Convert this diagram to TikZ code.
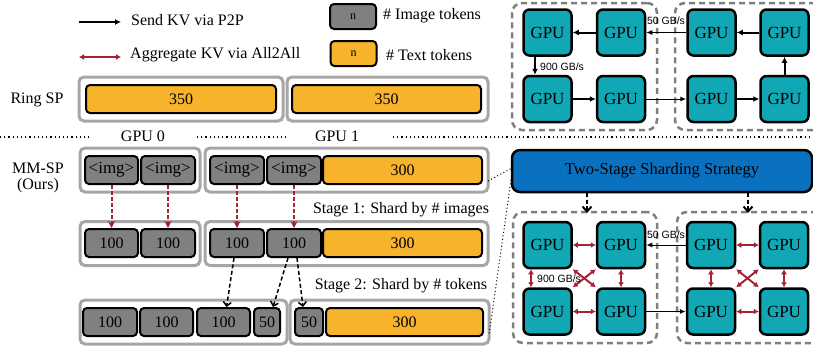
\documentclass[tikz,border=0pt]{standalone}
\usepackage{fontspec}
\setmainfont{Liberation Serif}
\newfontfamily\arialf{Liberation Sans}
\usetikzlibrary{arrows.meta,calc}
\definecolor{gputeal}{RGB}{17,167,181}
\definecolor{txtorange}{RGB}{246,179,43}
\definecolor{imggray}{RGB}{128,128,128}
\definecolor{outergray}{RGB}{166,166,166}
\definecolor{panelgray}{RGB}{127,127,127}
\definecolor{stratblue}{RGB}{10,112,192}
\definecolor{kvred}{RGB}{166,35,55}
\tikzset{
  every node/.style={font=\fontsize{16}{18}\selectfont, inner sep=0pt},
  outerbox/.style={draw=outergray, line width=3pt, rounded corners=5pt, minimum height=44pt},
  tok/.style={draw=black, line width=2pt, rounded corners=4pt, minimum height=28pt},
  imgtok/.style={tok, fill=imggray},
  txttok/.style={tok, fill=txtorange},
  gpubox/.style={draw=black, fill=gputeal, line width=2.5pt, rounded corners=6pt, minimum width=48pt, minimum height=46pt, font=\fontsize{17}{18}\selectfont},
  panel/.style={draw=panelgray, line width=2.5pt, dash pattern=on 6pt off 4pt, rounded corners=10pt},
  p2p/.style={line width=2pt, -{Latex[length=6pt,width=6pt]}},
  p2pthin/.style={line width=1pt, -{Latex[length=6pt,width=5pt]}},
  a2a/.style={draw=kvred, line width=2pt, {Latex[length=5pt,width=6pt]}-{Latex[length=5pt,width=6pt]}},
  reddash/.style={draw=kvred, line width=2pt, dash pattern=on 4pt off 2pt, -{Stealth[length=7pt,width=7pt]}},
  blackdash/.style={line width=1.5pt, dash pattern=on 4pt off 2.5pt, -{Straight Barb[length=4pt,width=8pt]}},
  bluedash/.style={line width=2pt, dash pattern=on 4pt off 2.5pt, -{Straight Barb[length=5pt,width=9pt]}},
  dotline/.style={line width=1.2pt, dash pattern=on 1.2pt off 3pt},
  zoomline/.style={line width=1pt, dash pattern=on 1pt off 2.5pt},
  bw/.style={font=\arialf\fontsize{10.5}{12}\selectfont},
  imgtxt/.style={font=\fontsize{17}{18}\selectfont},
}
\begin{document}
\begin{tikzpicture}[x=1pt,y=-1pt]
\useasboundingbox (0,0) rectangle (813,349);

% ---------- legend ----------
\coordinate (la1) at (79,22); \coordinate (la2) at (121,22);
\draw[p2p] (la1) -- (la2);
\node[anchor=west] (lt1) at (131,20) {Send KV via P2P};
\coordinate (lb1) at (79,57); \coordinate (lb2) at (121,57);
\draw[a2a] (lb1) -- (lb2);
\node[anchor=west] (lt2) at (130,55) {Aggregate KV via All2All};
\node[imgtok, minimum width=46pt, minimum height=25pt, font=\fontsize{12}{13}\selectfont] (limg) at (353,16.5) {n};
\node[anchor=west] (limgt) at (383,16) {\# Image tokens};
\node[txttok, minimum width=46pt, minimum height=25pt, font=\fontsize{12}{13}\selectfont] (ltxt) at (353.5,53.5) {n};
\node[anchor=west] (ltxtt) at (386,55) {\# Text tokens};

% ---------- Ring SP ----------
\node (ringl) at (37,100) {Ring SP};
\node[outerbox, minimum width=204pt] (ro0) at (181,99) {};
\node[txttok, minimum width=190pt] (rt0) at (181,99) {350};
\node[outerbox, minimum width=201pt] (ro1) at (387.5,99) {};
\node[txttok, minimum width=189pt] (rt1) at (386.5,99) {350};

% ---------- separator ----------
\coordinate (d1) at (0,137); \coordinate (d2) at (90,137);
\coordinate (d3) at (197,137); \coordinate (d4) at (286,137);
\coordinate (d5) at (393,137); \coordinate (d6) at (813,137);
\draw[dotline] (d1) -- (d2);
\draw[dotline] (d3) -- (d4);
\draw[dotline] (d5) -- (d6);
\node (g0) at (143,136) {GPU 0};
\node (g1) at (337,136) {GPU 1};

% ---------- top right: ring ----------
\node[panel, minimum width=145pt, minimum height=127pt] (tp1) at (584.5,66.5) {};
\node[panel, minimum width=160pt, minimum height=127pt] (tp2) at (755,66.5) {};
\node[gpubox] (t1) at (547.5,32.5) {GPU};
\node[gpubox] (t2) at (621,32.5) {GPU};
\node[gpubox] (t3) at (711.5,32.5) {GPU};
\node[gpubox] (t4) at (784.5,32.5) {GPU};
\node[gpubox] (t5) at (547.5,99) {GPU};
\node[gpubox] (t6) at (621,99) {GPU};
\node[gpubox] (t7) at (711.5,99) {GPU};
\node[gpubox] (t8) at (784.5,99) {GPU};
\draw[p2p] (t2) -- (t1);
\draw[p2pthin] (t3) -- (t2);
\draw[p2p] (t4) -- (t3);
\draw[p2p] ($(t1.south)+(-12.5,0)$) -- ($(t5.north)+(-12.5,0)$);
\draw[p2p] (t5) -- (t6);
\draw[p2pthin] (t6) -- (t7);
\draw[p2p] (t7) -- (t8);
\draw[p2p] (t8) -- (t4);
\node[bw] (tl50) at (666,21) {50 GB/s};
\node[bw, anchor=west] (tl900) at (540,67) {900 GB/s};

% ---------- MM-SP ----------
\node (mml) at (38,168) {MM-SP};
\node (mmo) at (38,186) {(Ours)};

% row 1
\node[outerbox, minimum width=120pt] (o10) at (140,170) {};
\node[imgtok, imgtxt, minimum width=53pt] (r1a) at (111.5,170) {<img>};
\node[imgtok, imgtxt, minimum width=54pt] (r1b) at (168,170) {<img>};
\node[outerbox, minimum width=283pt] (o11) at (346.5,170) {};
\node[imgtok, imgtxt, minimum width=54pt] (r1c) at (237,170) {<img>};
\node[imgtok, imgtxt, minimum width=54pt] (r1d) at (294,170) {<img>};
\node[txttok, minimum width=159pt] (r1e) at (402.5,170) {300};

% row 2
\node[outerbox, minimum width=120pt] (o20) at (140,243.5) {};
\node[imgtok, minimum width=53pt] (r2a) at (111.5,243) {100};
\node[imgtok, minimum width=54pt] (r2b) at (168,243) {100};
\node[outerbox, minimum width=283pt] (o21) at (346.5,243.5) {};
\node[imgtok, minimum width=54pt] (r2c) at (237,243) {100};
\node[imgtok, minimum width=54pt] (r2d) at (294,243) {100};
\node[txttok, minimum width=159pt] (r2e) at (402.5,243) {300};

% row 3
\node[outerbox, minimum width=207pt] (o30) at (183.5,322) {};
\node[imgtok, minimum width=54pt] (r3a) at (110,322) {100};
\node[imgtok, minimum width=53pt] (r3b) at (166.5,322) {100};
\node[imgtok, minimum width=53pt] (r3c) at (223.5,322) {100};
\node[imgtok, minimum width=26pt] (r3d) at (267,322) {50};
\node[outerbox, minimum width=199pt] (o31) at (389.5,322) {};
\node[imgtok, minimum width=28pt] (r3e) at (309,322) {50};
\node[txttok, minimum width=157pt] (r3f) at (404.5,322) {300};

\node (s1) at (401,210) {Stage 1: Shard by \# images};
\node (s2) at (401,286) {Stage 2: Shard by \# tokens};

\draw[reddash] (r1a.south) -- (r2a.north);
\draw[reddash] (r1b.south) -- (r2b.north);
\draw[reddash] (r1c.south) -- (r2c.north);
\draw[reddash] (r1d.south) -- (r2d.north);

\draw[blackdash] ($(r2c.south)+(-3,0)$) -- ($(r3c.north)+(3,0)$);
\draw[blackdash] ($(r2d.south)+(-6,0)$) -- ($(r3d.north)+(6,0)$);
\draw[blackdash] ($(r2d.south)+(3,0)$) -- ($(r3e.north)+(-6,0)$);

% ---------- bottom right ----------
\node[draw=black, fill=stratblue, line width=2.5pt, rounded corners=8pt, minimum width=300pt, minimum height=42pt, font=\fontsize{16.5}{18}\selectfont] (strat) at (662,171) {Two-Stage Sharding Strategy};
\coordinate (zc1) at (512,168);
\coordinate (zc2) at (512,173);
\coordinate (zs1) at (488,181);
\coordinate (zs2) at (489,335);
\draw[zoomline] (zs1) -- (zc1);
\draw[zoomline] (zc2) -- (zs2);

\node[panel, minimum width=144pt, minimum height=131pt] (bp1) at (585,277.5) {};
\node[panel, minimum width=160pt, minimum height=131pt] (bp2) at (757,277.5) {};
\coordinate (bd1) at (587,193); \coordinate (bd2) at (587,213);
\coordinate (bd3) at (748,193); \coordinate (bd4) at (748,213);
\draw[bluedash] (bd1) -- (bd2);
\draw[bluedash] (bd3) -- (bd4);

\node[gpubox] (b1) at (547.5,245) {GPU};
\node[gpubox] (b2) at (621,245) {GPU};
\node[gpubox] (b3) at (711,245) {GPU};
\node[gpubox] (b4) at (784,245) {GPU};
\node[gpubox] (b5) at (547.5,311.5) {GPU};
\node[gpubox] (b6) at (621,311.5) {GPU};
\node[gpubox] (b7) at (711,311.5) {GPU};
\node[gpubox] (b8) at (784,311.5) {GPU};

% all2all within each node
\draw[a2a] (b1) -- (b2);
\draw[a2a] (b5) -- (b6);
\draw[a2a] ($(b1.south)+(-16.5,0)$) -- ($(b5.north)+(-16.5,0)$);
\draw[a2a] (b2) -- (b6);
\draw[a2a] (b1.south east) -- (b6.north west);
\draw[a2a] (b2.south west) -- (b5.north east);
\draw[a2a] (b3) -- (b4);
\draw[a2a] (b7) -- (b8);
\draw[a2a] (b3) -- (b7);
\draw[a2a] (b4) -- (b8);
\draw[a2a] (b3.south east) -- (b8.north west);
\draw[a2a] (b4.south west) -- (b7.north east);

\draw[p2pthin] (b3) -- (b2);
\draw[p2pthin] (b6) -- (b7);
\node[bw] (bl50) at (666,235) {50 GB/s};
\node[bw, anchor=west] (bl900) at (537,279) {900 GB/s};
\end{tikzpicture}
\end{document}
